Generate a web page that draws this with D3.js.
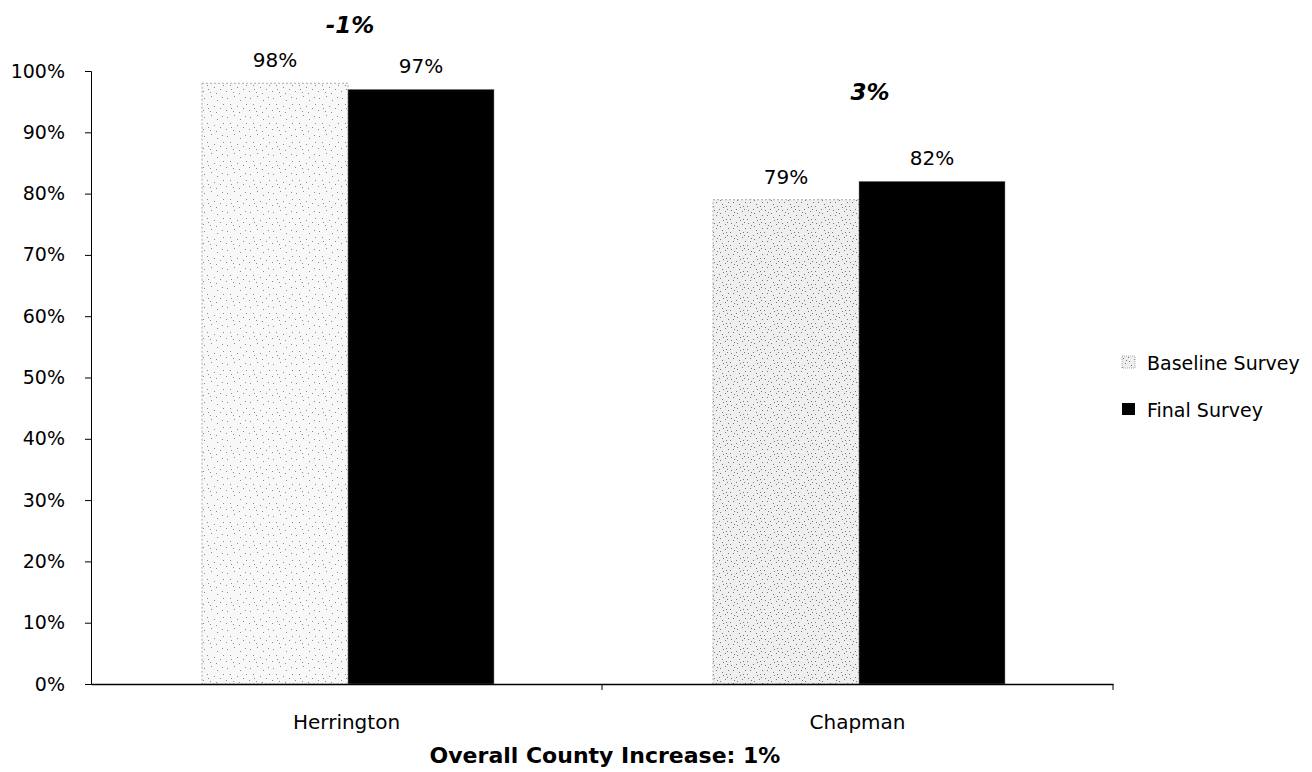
<!DOCTYPE html>
<html>
<head>
<meta charset="utf-8">
<script src="https://cdn.jsdelivr.net/npm/d3@7"></script>
<style>
  html, body { margin: 0; padding: 0; background: #fff; }
  svg text { font-family: "DejaVu Sans", "Open Sans", sans-serif; fill: #000; }
</style>
</head>
<body>
<svg id="chart" width="1312" height="772"></svg>
<script>
// ---- data ----
const categories = ["Herrington", "Chapman"];
const seriesNames = ["Baseline Survey", "Final Survey"];
const baselineValues = [0.98, 0.79];
const finalValues = [0.97, 0.82];
const valueLabels = [["98%", "97%"], ["79%", "82%"]];
const changeLabels = ["-1%", "3%"];
const yTicks = [0, 0.1, 0.2, 0.3, 0.4, 0.5, 0.6, 0.7, 0.8, 0.9, 1.0];
const footnote = "Overall County Increase: 1%";

// ---- layout ----
const svg = d3.select("#chart");
const x0 = 91, x1 = 1113, yBot = 684, yTop = 71;

const x = d3.scaleBand().domain(categories).range([x0, x1]);
const groupW = 292;
const xs = d3.scaleBand().domain(seriesNames).range([0, groupW]);
const y = d3.scaleLinear().domain([0, 1]).range([yBot, yTop]);

// stipple patterns for baseline bars
const defs = svg.append("defs");
function makePattern(id, w, h, bg, dotColor, dots) {
  const p = defs.append("pattern").attr("id", id)
    .attr("patternUnits", "userSpaceOnUse").attr("width", w).attr("height", h);
  p.append("rect").attr("width", w).attr("height", h).attr("fill", bg);
  dots.forEach(d => p.append("rect").attr("x", d[0]).attr("y", d[1])
    .attr("width", 1).attr("height", 1).attr("fill", dotColor));
}
makePattern("stipple", 23, 19, "#f8f8f8", "#8a8a8a",
  [[2,3],[9,1],[15,5],[20,2],[5,9],[12,11],[18,13],[1,15],[8,16],[14,17],[21,9],[6,13]]);
makePattern("stipple2", 17, 13, "#efefef", "#777",
  [[1,2],[6,1],[12,3],[15,7],[3,7],[9,9],[13,11],[0,11],[7,5],[10,12],[4,4],[14,1]]);
const baselineFills = ["url(#stipple)", "url(#stipple2)"];

const data = categories.map((c, i) => ({
  cat: c, idx: i,
  vals: [
    { s: seriesNames[0], v: baselineValues[i], label: valueLabels[i][0], fill: baselineFills[i] },
    { s: seriesNames[1], v: finalValues[i], label: valueLabels[i][1], fill: "#000" }
  ]
}));

const groupOffset = (x.bandwidth() - groupW) / 2 + 1.5;

const g = svg.selectAll("g.grp").data(data).join("g")
  .attr("class", "grp")
  .attr("transform", d => `translate(${x(d.cat) + groupOffset},0)`);

g.selectAll("rect.bar").data(d => d.vals).join("rect")
  .attr("class", "bar")
  .attr("x", d => xs(d.s))
  .attr("y", d => y(d.v))
  .attr("width", xs.bandwidth())
  .attr("height", d => y(0) - y(d.v))
  .attr("fill", d => d.fill)
  .attr("stroke", (d, i) => i === 0 ? "#aaa" : "#888")
  .attr("stroke-dasharray", (d, i) => i === 0 ? "2,2" : null)
  .attr("stroke-width", (d, i) => i === 0 ? 1 : 0.5);

g.selectAll("text.vl").data(d => d.vals).join("text")
  .attr("class", "vl")
  .attr("x", d => xs(d.s) + xs.bandwidth() / 2)
  .attr("y", d => y(d.v) - 16)
  .attr("text-anchor", "middle")
  .attr("font-size", 20)
  .text(d => d.label);

// change annotations (free text boxes above each group)
const annotDx = [2, 11];
const annotDy = [50, 81];
g.append("text")
  .attr("x", d => groupW / 2 + annotDx[d.idx])
  .attr("y", d => y(d3.max(d.vals, v => v.v)) - annotDy[d.idx])
  .attr("text-anchor", "middle")
  .attr("font-size", 23)
  .attr("font-weight", "bold")
  .attr("font-style", "italic")
  .text(d => changeLabels[d.idx]);

// y axis
const yAxis = d3.axisLeft(y).tickValues(yTicks).tickFormat(d3.format(".0%")).tickSize(6).tickPadding(20);
const ya = svg.append("g").attr("transform", `translate(${x0},0)`).call(yAxis);
ya.select(".domain").attr("stroke", "#000");
ya.selectAll(".tick line").attr("stroke", "#000");
ya.selectAll("text").attr("font-size", 19).attr("font-family", "'DejaVu Sans', sans-serif").attr("fill", "#000");

// x axis
const xAxis = d3.axisBottom(x).tickSize(0).tickPadding(0);
const xa = svg.append("g").attr("transform", `translate(0,${yBot})`).call(xAxis);
xa.select(".domain").attr("stroke", "#000").attr("stroke-width", 1.5);
xa.selectAll("text").attr("font-size", 20).attr("font-family", "'DejaVu Sans', sans-serif")
  .attr("fill", "#000").attr("dy", 0).attr("y", 45);
// category boundary ticks
svg.append("g").selectAll("line").data([x(categories[1]), x1]).join("line")
  .attr("x1", d => d).attr("x2", d => d)
  .attr("y1", yBot).attr("y2", yBot + 6)
  .attr("stroke", "#000");

// footnote
svg.append("text")
  .attr("x", 605)
  .attr("y", 763)
  .attr("text-anchor", "middle")
  .attr("font-size", 22)
  .attr("font-weight", "bold")
  .text(footnote);

// legend
const legend = svg.append("g").attr("transform", "translate(1122,356)");
const li = legend.selectAll("g").data(seriesNames).join("g")
  .attr("transform", (d, i) => `translate(0,${i * 47})`);
li.append("rect").attr("x", 0).attr("y", 0).attr("width", 13).attr("height", 12)
  .attr("fill", (d, i) => i === 0 ? "url(#stipple2)" : "#000")
  .attr("stroke", (d, i) => i === 0 ? "#aaa" : "none").attr("stroke-dasharray", "1,1");
li.append("text").attr("x", 25).attr("y", 14).attr("font-size", 19).text(d => d);
</script>
</body>
</html>
